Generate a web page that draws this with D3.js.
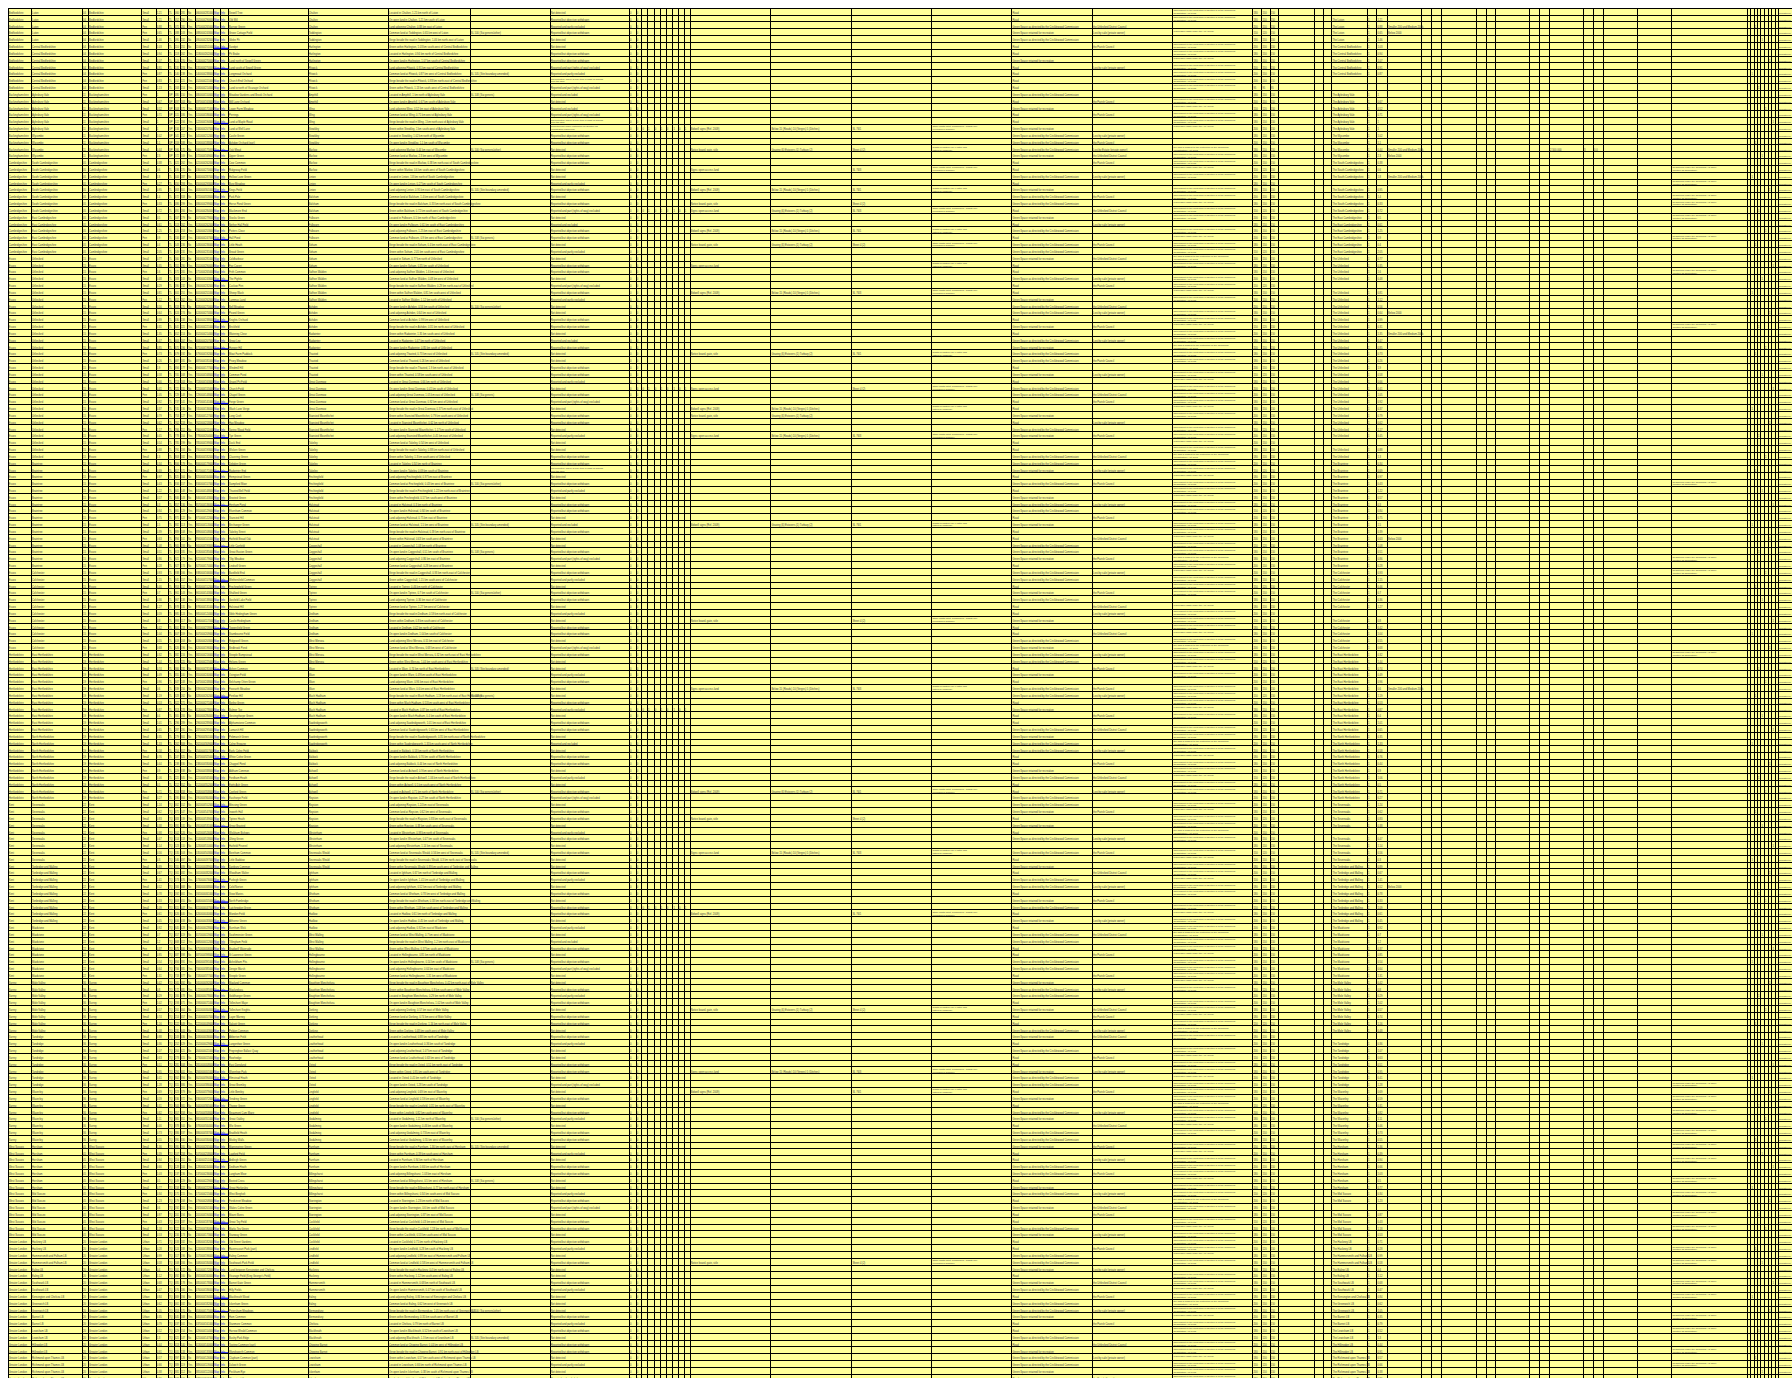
<!DOCTYPE html>
<html><head><meta charset="utf-8"><title>Register of sites</title>
<script src="https://cdnjs.cloudflare.com/ajax/libs/d3/7.8.5/d3.min.js"></script>
<style>html,body{margin:0;padding:0;background:#fff;}svg{display:block;}</style>
</head><body>
<svg id="chart" width="1792" height="1378"></svg>
<script>
// ================= DATA =================
const countyRuns = [["Bedfordshire",12],["Buckinghamshire",10],["Cambridgeshire",14],["Essex",58],["Hertfordshire",22],["Kent",26],["Surrey",24],["West Sussex",14],["Greater London",21]];
const countyCodes = ["04","11","05","15","19","22","36","45","20"];
const gridLetters = ["TL","SP","TL","TL","TL","TQ","TQ","TQ","TQ"];
const districtRuns = [["Luton",5],["Central Bedfordshire",7],["Aylesbury Vale",6],["Wycombe",4],["South Cambridgeshire",8],["East Cambridgeshire",6],["Uttlesford",30],["Braintree",16],["Colchester",12],["East Hertfordshire",12],["North Hertfordshire",10],["Sevenoaks",9],["Tonbridge and Malling",9],["Maidstone",8],["Mole Valley",8],["Tandridge",8],["Waverley",8],["Horsham",7],["Mid Sussex",7],["Hackney LB",2],["Hammersmith and Fulham LB",2],["Ealing LB",2],["Southwark LB",2],["Kensington and Chelsea LB",1],["Greenwich LB",2],["Barnet LB",2],["Lewisham LB",2],["Hillingdon LB",2],["Richmond upon Thames LB",4]];
const settlementRuns = [["Chalton",3],["Toddington",2],["Harlington",3],["Flitwick",4],["Ampthill",2],["Wing",3],["Stewkley",3],["Marlow",4],["Linton",3],["Balsham",3],["Fulbourn",4],["Soham",4],["Saffron Walden",5],["Ashdon",4],["Radwinter",3],["Thaxted",4],["Great Dunmow",5],["Stansted Mountfitchet",4],["Takeley",5],["Finchingfield",4],["Halstead",6],["Coggeshall",6],["Tiptree",4],["Dedham",4],["West Mersea",4],["Ware",4],["Much Hadham",4],["Sawbridgeworth",4],["Baldock",3],["Ashwell",4],["Royston",5],["Westerham",3],["Sevenoaks Weald",3],["Ightham",3],["Wrotham",3],["Hadlow",3],["West Malling",3],["Hollingbourne",4],["Boughton Monchelsea",4],["Dorking",4],["Leatherhead",4],["Oxted",4],["Lingfield",4],["Godalming",4],["Farnham",4],["Billingshurst",4],["Storrington",3],["Cuckfield",4],["Lindfield",3],["Hackney",2],["Hammersmith",2],["Ealing",2],["Bermondsey",2],["Chelsea",1],["Blackheath",2],["Chipping Barnet",2],["Lewisham",2],["Ickenham",2],["Petersham",4]];
const siteNames = ("Sewell Tree|Old Mill|Barrow Green|Grove Cottage Field|Glebe Pit|Sandpit|Pit Brake|Land north of Sewell Green|Land south of Sewell Green|Longmead Orchard|Church End Orchard|Land to north of Vicarage Orchard|Meadow Gardens and Brook Orchard|Mill Lane Orchard|Lower Farm Meadow|Perrings|Land at Maple Road|Land at Well Lane|Castle Green|Ashdon Orchard (part)|Oak Mead|Upper Green|Cow Common|Ridgeway Field|Hollow Lane Green|Bury Meadow|Kings Field|Park Pale|Horse Pond Green|Blackmore End|Stocks Green|Nether Hall Field|Potters Close|Hall Pond|Little Heath|Broad Green|Coldharbour|Fox Covert|Frith Common|The Pightle|Cuckoo Pen|Sheep Wash|Lammas Land|Bell Meadow|Pound Green|Knights Orchard|Brickfield|Watering Close|Great Ley|Hunger Hill|Moat Farm Paddock|Priory Meadow|Windmill Hill|Common Pond|Gravel Pit Field|Church Field|Chapel Green|Forge Green|Wash Lane Verge|Long Croft|Hay Meadow|Spring Wood Field|Tye Green|Duck End|Wicken Green|Clavering Green|Debden Green|Radwinter End|Hempstead Green|Sampford Moor|Thaxted Bell Field|Broxted Green|Henham Pond|Elsenham Common|Stansted Hill|Birchanger Green|Takeley Street|Hatfield Broad Oak|Little Canfield|Great Easton Green|Tilty Meadow|Lindsell Green|Bardfield End|Wethersfield Common|Finchingfield Green|Shalford Green|Gosfield Lake Field|Halstead Hill|Sible Hedingham Green|Castle Hedingham|Toppesfield Green|Stambourne Field|Ridgewell Green|Birdbrook Pond|Steeple Bumpstead|Helions Green|Ashen Common|Ovington Field|Belchamp Otten Green|Foxearth Meadow|Pentlow Hill|Borley Green|Bulmer Tye|Gestingthorpe Green|Alphamstone Common|Lamarsh Hill|Pebmarsh Green|Colne Engaine|Earls Colne Field|White Colne Green|Chappel Pond|Aldham Common|Fordham Heath|Eight Ash Green|Copford Green|Easthorpe Field|Messing Green|Inworth Hall|Tiptree Heath|Great Braxted|Wickham Bishops|Ulting Green|Hatfield Peverel|Boreham Common|Little Baddow|Danbury Common|Woodham Walter|Purleigh Green|Cold Norton|Stow Maries|North Fambridge|Latchingdon Green|Mundon Field|Althorne Green|Burnham Wick|Southminster Green|Tillingham Field|Bradwell Waterside|St Lawrence Green|Asheldham Pits|Dengie Marsh|Steeple Green|Mayland Common|Maylandsea|Goldhanger Green|Tolleshunt Major|Tolleshunt Knights|Layer Marney|Salcott Green|Peldon Common|Abberton Field|Langenhoe Green|Fingringhoe Ballast Quay|Rowhedge|East Donyland|Wivenhoe Park|Elmstead Heath|Great Bromley|Little Bentley|Tendring Green|Thorpe Green|Beaumont Cum Moze|Great Oakley|Wix Green|Bradfield Heath|Mistley Walls|Manningtree Green|Lawford Field|Ardleigh Green|Dedham Heath|Langham Moor|Boxted Cross|Great Horkesley|West Bergholt|Fordstreet Meadow|Wakes Colne Green|Mount Bures|Great Tey Field|Marks Tey Green|Stanway Green|Old Street Gardens|Ravenscourt Park (part)|Ealing Common|Southwark Park Field|Land between Kensington and Chelsea|Vicarage Field (King George's Field)|Barnet Gate Green|Hilly Fields|Blackheath Wood|Ickenham Green|Petersham Meadows|Ham Common|Stanmore Common|Harrow Weald Common|Bushy Park Edge|Tooting Common (part)|Wandsworth Common|Clapham Common (part)|Dulwich Green|Peckham Rye|Plumstead Common").split("|");
const areas = ("1.21 1.21 0.88 0.65 1.46 1.03 0.94 1.07 0.91 0.87 0.83 1.13 1 0.67 0.52 0.71 1 1 1.02 1.1 0.44 2.3 0.38 0.6 1.8 0.27 0.95 1.4 0.33 0.72 0.5 0.61 1.25 0.9 0.4 2.05 0.77 0.35 1.6 0.48 0.29 0.81 1.12 0.56 0.64 0.99 0.31 1.35 0.47 0.85 0.73 0.26 1.9 0.58 0.66 0.41 1.05 0.92 0.37 0.79 0.62 1.17 0.45 0.54 0.88 1.3 0.34 0.69 0.97 0.43 1.22 0.57 0.3 0.84 0.75 1.5 0.39 0.63 1.08 0.51 0.86 0.28 0.93 1.15 0.46 0.7 0.36 1.27 0.59 0.8 0.42 1.04 0.55 0.68 0.32 1.44 0.74 0.49 0.96 0.6 1.19 0.53 0.87 0.4 1.01 0.65 0.35 1.33 0.58 0.76 0.44 0.9 1.06 0.5 0.71 0.27 1.24 0.62 0.83 0.38 0.98 0.47 1.14 0.56 0.3 0.89 0.67 1.41 0.52 0.78 0.33 1.09 0.61 0.45 0.92 0.7 1.2 0.37 0.85 0.54 0.64 1.31 0.42 0.8 0.29 1.02 0.57 0.74 1.16 0.48 0.88 0.36 1.07 0.63 0.51 0.95 0.41 1.28 0.69 0.59 0.31 0.82 1.11 0.46 0.73 0.55 1.36 0.39 0.94 0.66 1.03 0.5 0.77 0.34 1.23 0.6 0.87 0.43 1.18 0.53 0.71 0.28 0.99 0.58 0.4 1.12 0.68 0.47 0.84 0.62 1.05 0.35 0.79 0.52 1.3 0.44 0.91 0.57 0.66 0.38 0.81").split(" ");
const gridRefs = ("060281 052290 071265 088243 095232 110251 118262 124270 131274 140238 152221 163214 480150 497163 503171 515186 522194 534207 541212 559188 566175 572169 421262 436270 444287 450293 463301 472318 486299 491284 507279 513262 526253 534247 543236 549231 560281 551290 571265 583243 590232 601251 612262 618270 624274 630238 641221 652214 663207 671196 679192 687181 694177 705168 713163 721155 729148 737141 745136 753127 762218 766211 778204 785199 791193 803182 806179 817171 825164 834157 841148 846143 857136 865129 871122 882113 889108 894101 905193 913185 921179 927174 938166 945157 953152 961143 967138 978131 985124 993117 601218 607209 618203 626196 382216 374225 366231 355240 347248 339256 328262 322271 313278 305284 296289 287295 279301 262309 254317 247325 238330 229338 221345 212352 203358 195364 462552 471547 483539 491531 502526 514518 523510 535503 546497 555489 561482 573476 584468 592461 603455 615447 626440 634433 645428 657419 668412 675406 687398 694391 706385 718377 165492 172485 184478 193471 201464 214457 222449 231443 243436 252429 264421 273415 281408 294401 302394 315386 323379 336372 344365 357358 365351 378344 386337 395330 095265 107258 116251 128244 137236 149229 158222 171215 179208 192201 201194 213187 222180 234173 533182 524188 517196 508184 501172 492160 485178 476186 469194 461182 453175 445168 437161 429154 421147 413140 405133 397126 389119 381112 373105").split(" ");

const typeNames = {s:"Small", f:"Fen", u:"Urban"};
const typeCodes = "ssffsssssf fsfssfssss sfsssfssfs sssfssssfs ssfsssfsss fsssssfsss sfssfsssfs ssssfssfss sfsssfssss fssfssssfs ssfsssssfs sfssfsssss fsssfssfss ssfssssfss sfsssfssfs ssssfsssfs sfsssssfss fssfsssfss uuuuuuuuuu uuuuuuuuuu u";
const statusNames = {a:"Not detected", b:"Reported but objection withdrawn", c:"Reported and partly excluded", d:"Reported and part (rights of way) excluded", e:"Reported and excluded", f:["Not detected. There is one item in sight of access","over the acre"], g:["Reported but under restriction on Section 13","(registration cancelled)"]};
const statusCodes = "abcbaabbdc fdeaedfgbb abbaacbabd aebbacabba dbcaabbaeb aabbcabdab bacaabbfab cabbaebaab dabcabbaca bbadbaacba abcabbaeab bacabdabba cbabaabcab abbacaebab daabcbabba bcaabbadab abcabbacab baacbdabba bcabaabcaa abcbabbaca e";
const useNames = {a:"Road", b:"Green Space as directed by the Cricklewood Commission", c:"Green Space retained for recreation"};
const useCodes = "aabcbaacaa aabacaacbb bcaabacbba cababbcaab aacbbacabc bbacabbaac abcaabbcab acbbacaabb cabbacbaac aabcbbacab bacaabcbba acbaabbcac ab-bacabba cbacabbaab bacbbacaab cabaacbbac abcabbcaab bacbacaabc aabbcacbab bcaabacbbc a";
const ownerNames = {b:"the Uttlesford District Council", c:"Lost by sale (private owner)", d:"the Parish Council", e:"Lost by Estate (private owner)"};
const ownerCodes = "--bc-d--c- ---d-d--cd ebd-c--d-b -c--d-b--c d--bc-d-c- -d-c--bd-- c-d--b-c-d --c-d--b-- d-c--d-bc- -b--c-d--d c--d-b--c- d-b-c--d-- -c-d--b-c- d--c-b--d- -d-c--bd-c b--d-c--d- -c-b--d-c- d--c-bd--c -d--c-b-d- c-d--b-c-- d";
const protectNames = {b:["was subject to the protection of Section 5 of the Commons","Registration Act 1965"], c:["Inalienable rights under the Act (1965)",""], d:["the land is subject to the protection of the Commons","(Registration) Act 1965"]};
const protectCodes = "bb-c-bbcbb bb-bcbbc-- dbbcb-bbcb b-bcbbdb-b bcb-bbcbbd bb-bcbbbcb -bbcbdbbcb bcbb-bbcbb dbcbbb-cbb bcbdbbcb-b bbcb-bbdbc bbcbb-bcbb db-bcbbcbb -bcbbdbbcb bbcb-bbcbd b-bcbbcbbb dbbcb-bcbb bcbbdb-bcb bbcb-bbcbd bcbb-bbcbb b";
const countNames = {a:["180","150","150"], b:["200","150","150"], c:["95","95","95"], d:["150","120","150"]};
const countCodes = "aabdabaabb bcabdaabab aabdbaabad baabadbaab dabbaadbab aabdabbaab adbbaabdab baadbaabda abbadbaabd aabbadabba dbaabdabba abdaabbadb baadbabdaa bdabbaadba abadbbaadb abbdaabdab dbaabadbab aabdbaadba bdaabbadab abbadbaadb a";
const flagCodes = "--2-4--6-1 -3--5-7--2 -4--1-6--3 --5-2--7-4 -1--6-3--5 2--4-7--1- 6-3--5-2-- 4-7--1-6-3 --5-2-4--7 -1-6--3-5- 2--4-7-1-- 6-3-5--2-4 --7-1-6--3 5-2--4-7-1 --6-3-5-2- -4--7-1-6- 3-5--2-4-7 --1-6-3-5- -2-4--7-1- 6--3-5-2-4 -";

const siteRefRows = [3,9,12,20,26,33,43,50,56,69,75,79,85,96,100,114,123,139,162,166,171,190,194];
const signRows = [17,20,23,26,28,29,32,34,37,41,50,55,58,59,62,75,89,99,114,118,123,132,146,155,158,183];
const limitRows = [17,20,26,29,32,34,41,50,58,59,62,75,99,114,123,146,155];
const sheetRows = [17,20,23,26,28,29,32,34,41,50,55,62,75,89,99,114,118,123,132,146,155,158,183];
const rightsRows = [17,20,23,26,29,32,34,37,41,50,55,58,62,75,89,99,114,123,132,146,155,158,183];
const digitRows = [17,29,55,102,131];
const noOwnerRows = [0,10,11,25,40,63,88,120,150,175];
const sizeRows = [2,3,20,21,24,44,47,77,99,128];
const registerRows = [23,25,27,28,30,33,38,46,69,80,82,94,157,159,161,164,166,168,171,173,176,178,181,183,186,188,191,193,196,198];
const linkBarRows = [5,8,16,20,26,33,39,45,49,57,62,67,72,78,83,90,96,100,103,109,116,119,127,130,133,138,143,146,151,156,159,164,168,172,177,182,188,190,196];
const descWords = ["Located in","On open land in","Land adjoining","Common land at","Verge beside the road in","Green within"];
const directions = ["north","south","east","west","north-east","south-west"];
const lastColText = "Registered";

// ================= LAYOUT =================
const W = 1792, H = 1378;
const colEdges = [8,31.3,82.3,88.3,141.7,156,168.3,174,180,187.3,195,213.3,220,228.3,308,388.3,470,550,629.3,636,641.7,647.3,654,660,666,672.7,678.3,684,690,770.7,851.7,931.7,1011.7,1092.3,1172.7,1252.7,1261.7,1270,1278.3,1314,1323.3,1331.7,1367.3,1376.7,1387.3,1421.7,1431.7,1441.7,1476,1486,1495,1529.3,1539.3,1549.3,1583.3,1593.3,1603.3,1637.3,1671.7,1747.3,1750.7,1754,1757.3,1760.7,1764.3,1768.3,1771.7,1775,1778.3,1870];
const TOP = 8.3, ROWH = 6.83;

// ================= BUILD =================
const expand = runs => runs.flatMap(([v,n]) => Array(n).fill(v));
const codes = s => s.replace(/\s/g,"").split("");
const counties = expand(countyRuns);
const countyIdx = expand(countyRuns.map((r,k)=>[k,r[1]]));
const districts = expand(districtRuns);
const settlements = expand(settlementRuns);
const types = codes(typeCodes), statuses = codes(statusCodes), uses = codes(useCodes),
      owners = codes(ownerCodes), protects = codes(protectCodes), counts = codes(countCodes), flags = codes(flagCodes);
const N = siteNames.length;

const x = d3.scaleLinear().domain(d3.range(colEdges.length)).range(colEdges);
const y = d3.scaleBand().domain(d3.range(N)).range([TOP, TOP + N*ROWH]);

const cells = [];
const add = (r,c,t,opt={}) => { if (t==null || t==="" ) return; cells.push(Object.assign({r,c,t},opt)); };
const occ = {};
const pick = (key, list) => { occ[key] = (occ[key]||0); return list[occ[key]++ % list.length]; };

d3.range(N).forEach(i => {
  const ci = countyIdx[i];
  const g = gridRefs[i] || "000000";
  add(i,0,counties[i]); add(i,1,districts[i]); add(i,2,countyCodes[ci]); add(i,3,counties[i]);
  add(i,4,typeNames[types[i]]); add(i,5,areas[i]);
  add(i,6,gridLetters[ci]); add(i,7,g.slice(0,3)); add(i,8,g.slice(3));
  add(i,9,statuses[i]==="a"?"No":"Yes");
  add(i,10,g.slice(0,3)+"000/"+g.slice(3)+"000");
  add(i,11,"Map",{blue:true}); add(i,12,"Info",{blue:true});
  add(i,13,siteNames[i]); add(i,14,settlements[i]);
  add(i,15,`${descWords[i%descWords.length]} ${settlements[i]}, ${areas[i]} km ${directions[i%directions.length]} of ${districts[i]}`);
  if (siteRefRows.includes(i)) add(i,16,pick("sr",["SL 100 (Sui generis/other)","SL 105 (Site boundary amended)","SL 108 (Sui generis)"]));
  add(i,17,statusNames[statuses[i]]);
  add(i,18,"0"); add(i,19,"0");
  if (digitRows.includes(i)) for (let c=20;c<=27;c++) add(i,c,c%2?"1":"0");
  if (signRows.includes(i)) add(i,28,pick("sg",["Bidwell signs (Ref. 2009)","Notice board, gate, stile","Signs: open access land"]));
  if (limitRows.includes(i)) add(i,29,pick("lm",["Below 15 (Roads) 10 (Verges) 5 (Ditches)","Grazing (6) Estovers (1) Turbary (2)"]));
  if (sheetRows.includes(i)) add(i,30,pick("sh",["SL 76/1","Sheet 4 (2)","SL 76/3"]));
  if (rightsRows.includes(i)) add(i,31,pick("rt",[["Other rights (stint, browsing 5), Rights only","exercised in summer"],["Rights of pasture for 6 cattle and","estovers (ongoing)"]]));
  add(i,32,useNames[uses[i]]);
  add(i,33,ownerNames[owners[i]]);
  if (protectNames[protects[i]]) add(i,34,protectNames[protects[i]]);
  const cn = countNames[counts[i]] || countNames.a;
  add(i,35,cn[0]); add(i,36,cn[1]); add(i,37,cn[2]);
  if (!noOwnerRows.includes(i)) { add(i,41,"The "+districts[i]); add(i,42,"1"); add(i,43,areas[i]); }
  if (sizeRows.includes(i)) add(i,44,pick("sz",["Smaller 200 and Medium 200k","Below 2000"]));
  if (i===20) { add(i,53,"2,500,000"); add(i,54,"3"); add(i,55,"0.0"); }
  if (registerRows.includes(i)) add(i,58,["Registered under the Commons Act 2006","(section 15 application)"]);
  if (/\d/.test(flags[i]||"")) add(i,59+ +flags[i],"1");
  add(i,68,lastColText,{small:true});
});

// ================= DRAW =================
const svg = d3.select("#chart");
svg.append("rect").attr("width",W).attr("height",H).attr("fill","#ffffff");

const xL = x(0), xR = x(colEdges.length-1), yB = y.range()[1];
svg.append("g").selectAll("rect").data(d3.range(N)).join("rect")
  .attr("x", xL).attr("y", d=>y(d)).attr("width", xR-xL).attr("height", y.bandwidth())
  .attr("fill", "#ffff99");

// link underline bars
svg.append("g").selectAll("rect").data(linkBarRows).join("rect")
  .attr("x", x(11)).attr("y", d=>y(d)+y.bandwidth()-1.6).attr("width", x(13)-x(11)).attr("height", 1.4)
  .attr("fill", "#1a1aff");

// text
const fontFam = "'Liberation Sans', Arial, sans-serif";
const tg = svg.append("g").attr("font-family", fontFam);
tg.selectAll("text").data(cells).join("text")
  .attr("x", d=>x(d.c)+0.7)
  .attr("y", d=>y(d.r) + (Array.isArray(d.t)?3.0:5.6))
  .attr("font-size", d=>Array.isArray(d.t)?2.4:(d.small?2.4:2.6))
  .attr("fill", d=>d.blue?"#2222ee":"#444444")
  .attr("text-decoration", d=>d.blue?"underline":null)
  .each(function(d){
    const s = d3.select(this);
    if (Array.isArray(d.t)) {
      s.selectAll("tspan").data(d.t).join("tspan")
        .attr("x", x(d.c)+0.7).attr("dy", (t,k)=>k?2.8:0).text(t=>t);
    } else s.text(d.t);
  });

// grid lines
const lines = svg.append("g").attr("stroke","#000").attr("stroke-width",1).attr("shape-rendering","crispEdges");
lines.selectAll("line.h").data(d3.range(N+1)).join("line").attr("class","h")
  .attr("x1", xL).attr("x2", xR)
  .attr("y1", d=> d<N ? y(d) : yB).attr("y2", d=> d<N ? y(d) : yB);
lines.selectAll("line.v").data(colEdges.map((e,k)=>k)).join("line").attr("class","v")
  .attr("x1", d=>x(d)).attr("x2", d=>x(d)).attr("y1", TOP).attr("y2", yB);
</script>
</body></html>
